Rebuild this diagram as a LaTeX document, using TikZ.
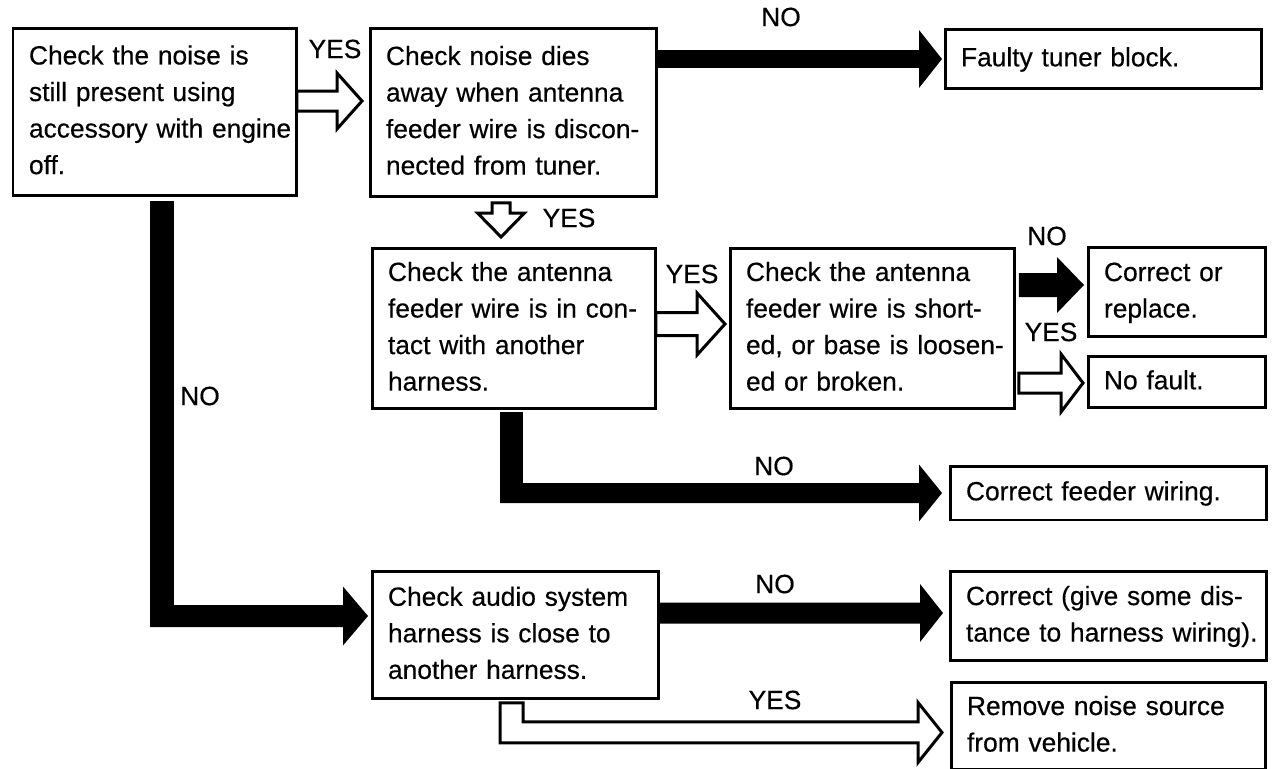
\documentclass[tikz,border=0pt]{standalone}
\usepackage{fontspec}
\setmainfont{Liberation Sans}[FakeBold=0.4]
\usetikzlibrary{calc}

\tikzset{
  box/.style={draw, line width=0.06cm, anchor=north west, align=left,
    inner xsep=0.32cm, inner ysep=0pt, outer sep=0pt},
  answer/.style={inner sep=0pt},
  yesflow/.style={draw, fill=white, line width=0.06cm, line join=miter},
  noflow/.style={fill=black},
}
% lines of a box, broken as printed
\newcommand{\boxlines}[1]{\begin{tabular}{@{}l@{}}#1\end{tabular}}
% fat arrow: [style]{from}{tip}{half shaft}{half head}{head length}
\newcommand{\fatarrow}[6][]{%
  \coordinate (fabase) at ($(#3)!#6!(#2)$);
  \path[#1] ($(#2)!#4!90:(#3)$) -- ($(fabase)!#4!90:(#3)$)
    -- ($(fabase)!#5!90:(#3)$) -- (#3) -- ($(fabase)!#5!-90:(#3)$)
    -- ($(fabase)!#4!-90:(#3)$) -- ($(#2)!#4!-90:(#3)$) -- cycle;}

\begin{document}
\begin{tikzpicture}[x=0.02cm, y=-0.02cm, font=\fontsize{15pt}{20.8pt}\selectfont]
\useasboundingbox (0,0) rectangle (1274,768);

% first row
\node[box, text width=5.04cm, minimum height=3.36cm] (A) at (13,28)
  {\boxlines{Check the noise is\\still present using\\accessory with engine\\off.}};
\node[box, text width=5.10cm, minimum height=3.38cm] (B) at (370,28)
  {\boxlines{Check noise dies\\away when antenna\\feeder wire is discon-\\nected from tuner.}};
\node[box, text width=5.70cm, minimum height=1.2cm] (F) at (945,29)
  {\boxlines{Faulty tuner block.}};

% antenna feeder checks
\node[box, text width=5.04cm, minimum height=3.22cm] (C) at (372,248)
  {\boxlines{Check the antenna\\feeder wire is in con-\\tact with another\\harness.}};
\node[box, text width=5.06cm, minimum height=3.22cm] (D) at (730,248)
  {\boxlines{Check the antenna\\feeder wire is short-\\ed, or base is loosen-\\ed or broken.}};
\node[box, text width=2.92cm, minimum height=1.8cm] (E1) at (1088,247)
  {\boxlines{Correct or\\replace.}};
\node[box, text width=2.92cm, minimum height=1.04cm] (E2) at (1088,356)
  {\boxlines{No fault.}};
\node[box, text width=5.70cm, minimum height=1.08cm] (G) at (950,466)
  {\boxlines{Correct feeder wiring.}};

% audio harness
\node[box, text width=5.10cm, minimum height=2.56cm] (H) at (372,571)
  {\boxlines{Check audio system\\harness is close to\\another harness.}};
\node[box, text width=5.70cm, minimum height=1.8cm] (I) at (950,571)
  {\boxlines{Correct (give some dis-\\tance to harness wiring).}};
\node[box, text width=5.66cm, minimum height=1.76cm] (J) at (951,682)
  {\boxlines{Remove noise source\\from vehicle.}};

% YES: A to B
\coordinate (ab) at ($(A.north east)+(0,73)$);
\coordinate (abtip) at ($(B.west|-ab)+(-8,0)$);
\fatarrow[yesflow]{ab}{abtip}{0.2cm}{0.56cm}{0.5cm}
\node[answer] (yesab) at (335,49) {YES};

% NO: B to F
\coordinate (bf) at (B.east|-F.west);
\coordinate (bftip) at ($(F.west)+(-3,0)$);
\fatarrow[noflow]{bf}{bftip}{0.18cm}{0.58cm}{0.46cm}
\node[answer] (nobf) at (781,17) {NO};

% YES: B down to C
\coordinate (bc) at ($(B.south west)+(131,6)$);
\coordinate (bctip) at ($(bc|-C.north)+(0,-11)$);
\fatarrow[yesflow]{bc}{bctip}{0.18cm}{0.47cm}{0.48cm}
\node[answer] (yesbc) at (569,218) {YES};

% YES: C to D
\coordinate (cd) at ($(C.north east)+(0,76)$);
\coordinate (cdtip) at ($(D.west|-cd)+(-5,0)$);
\fatarrow[yesflow]{cd}{cdtip}{0.23cm}{0.62cm}{0.56cm}
\node[answer] (yescd) at (692,274) {YES};

% NO: D to E1, YES: D to E2
\coordinate (de) at ($(D.north east)+(4,37)$);
\coordinate (detip) at ($(E1.west|-de)+(-4,0)$);
\fatarrow[noflow]{de}{detip}{0.24cm}{0.56cm}{0.54cm}
\node[answer] (node) at (1047,236) {NO};
\coordinate (dn) at ($(D.east|-E2.west)+(4,1)$);
\coordinate (dntip) at ($(E2.west|-dn)+(-5,0)$);
\fatarrow[yesflow]{dn}{dntip}{0.2cm}{0.58cm}{0.44cm}
\node[answer] (yesdn) at (1051,332) {YES};

% NO: C down to G
\coordinate (cg) at ($(C.south west|-G.west)+(128,0)$);
\fill ($(C.south west)+(128,3)$) rectangle ($(cg)+(23,10)$);
\coordinate (cgtip) at ($(G.west)+(-8,0)$);
\fatarrow[noflow]{cg}{cgtip}{0.2cm}{0.57cm}{0.46cm}
\node[answer] (nocg) at (774,466) {NO};

% NO: A down to H
\coordinate (ah) at ($(A.south west|-H.north)+(137,45)$);
\fill ($(A.south west)+(137,5)$) rectangle ($(ah)+(24,11)$);
\coordinate (ahtip) at ($(H.west|-ah)+(-4,0)$);
\fatarrow[noflow]{ah}{ahtip}{0.22cm}{0.59cm}{0.5cm}
\node[answer] (noah) at (200,396) {NO};

% NO: H to I
\coordinate (hi) at ($(H.east|-I.west)+(0,-3)$);
\coordinate (hitip) at ($(I.west|-hi)+(-7,0)$);
\fatarrow[noflow]{hi}{hitip}{0.21cm}{0.58cm}{0.46cm}
\node[answer] (nohi) at (775,584) {NO};

% YES: H round to J
\coordinate (hj) at ($(H.south west)+(128,4)$);
\coordinate (hjtip) at ($(J.west|-hj)+(-9,29.5)$);
\draw[yesflow] (hj) -- ($(hj|-hjtip)+(0,10.5)$) -- ($(hjtip)+(-24,10.5)$)
  -- ($(hjtip)+(-24,30)$) -- (hjtip) -- ($(hjtip)+(-24,-30)$)
  -- ($(hjtip)+(-24,-10.5)$) -- ($(hj|-hjtip)+(23,-10.5)$)
  -- ($(hj)+(23,0)$) -- cycle;
\node[answer] (yeshj) at (775,700) {YES};
\end{tikzpicture}
\end{document}
